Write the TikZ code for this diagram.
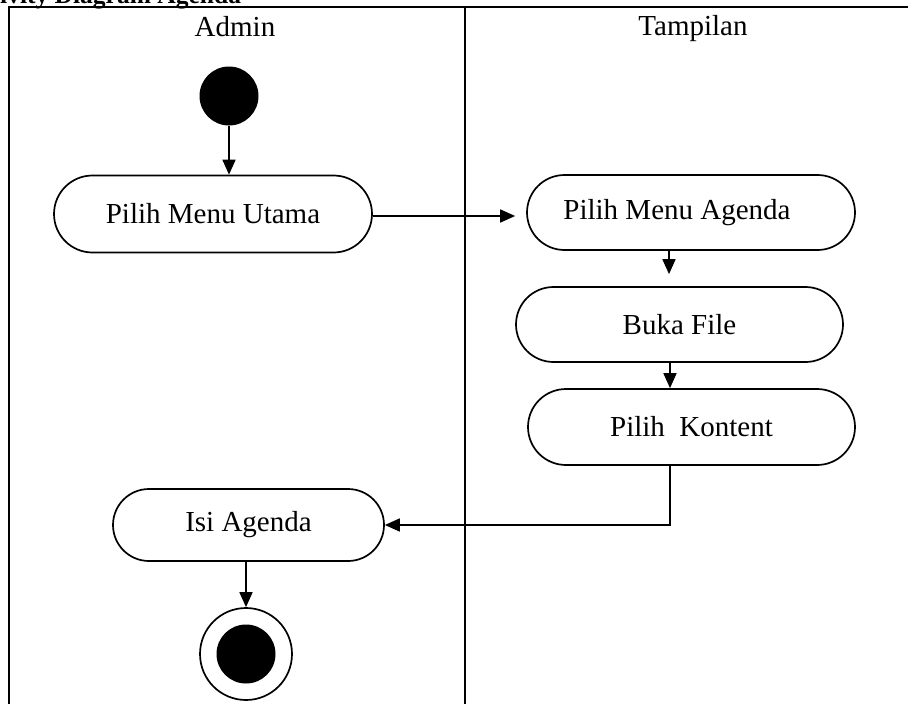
\documentclass[tikz,border=0pt]{standalone}
\usepackage{fontspec}
\setmainfont{Liberation Serif}
\usetikzlibrary{shapes.misc,arrows.meta}
\tikzset{
  act/.style={draw, line width=1.7pt, rounded rectangle, inner sep=0pt,
    font=\fontsize{29}{34}\selectfont},
  conn/.style={line width=1.7pt, -{Triangle[length=15pt,width=13pt]}},
  lane/.style={line width=2.4pt},
  lanetitle/.style={anchor=base, font=\fontsize{29}{34}\selectfont},
}
\begin{document}
\begin{tikzpicture}[x=1pt,y=-1pt]
\useasboundingbox (0,0) rectangle (908,704);
% title (cut off at top)
\node[anchor=base west, inner sep=0pt, font=\bfseries\fontsize{25.5}{30}\selectfont] (title) at (0,3) {ivity Diagram Agenda};
% swimlanes
\draw[lane] (9,712) -- (9,7) -- (915,7);
\draw[lane] (465,7) -- (465,712);
\node[lanetitle] (admin) at (235,36) {Admin};
\node[lanetitle] (tampilan) at (693,35.5) {Tampilan};
% nodes
\node[circle, fill=black, inner sep=0pt, minimum size=59pt] (start) at (229,96) {};
\node[act, minimum width=318pt, minimum height=77pt] (pmu) at (213,214) {Pilih Menu Utama};
\node[act, minimum width=328pt, minimum height=75pt] (pma) at (691,212.5) {Pilih Menu Agenda\hspace*{28pt}};
\node[act, minimum width=327pt, minimum height=75pt] (buka) at (679.5,324.5) {Buka File};
\node[act, minimum width=327pt, minimum height=76pt] (kontent) at (691.5,427) {Pilih\ \ Kontent};
\node[act, minimum width=271pt, minimum height=72pt] (isi) at (248.5,525) {Isi Agenda};
\node[circle, draw, line width=1.7pt, inner sep=0pt, minimum size=92pt] (end) at (246,654) {};
\node[circle, fill=black, inner sep=0pt, minimum size=59pt] (endin) at (end.center) {};
% connectors
\draw[conn] (start.south) -- (start.south |- pmu.north);
\draw[conn, shorten >=11pt] ([yshift=-2pt]pmu.east) -- ([yshift=-2pt]pmu.east -| pma.west);
\draw[conn, shorten >=12pt] ([xshift=-22pt]pma.south) -- ([xshift=-22pt]pma.south |- buka.north);
\draw[conn] ([xshift=-9.5pt]buka.south) -- ([xshift=-9.5pt]buka.south |- kontent.north);
\draw[conn] ([xshift=-21.5pt]kontent.south) |- (isi.east);
\draw[conn] (end.north |- isi.south) -- (end.north);
\end{tikzpicture}
\end{document}
